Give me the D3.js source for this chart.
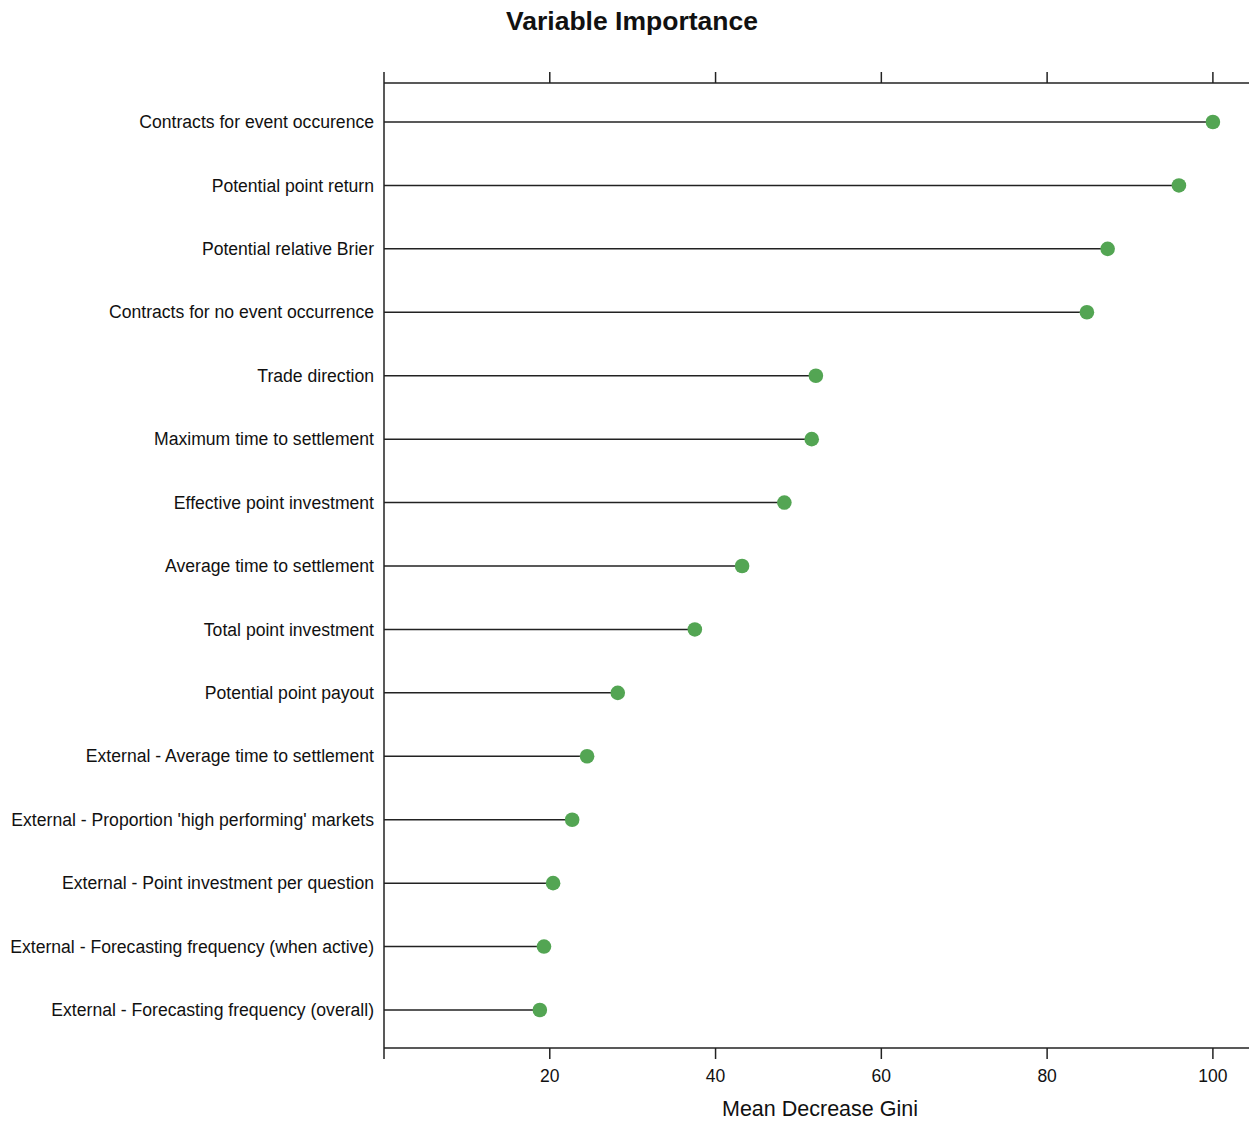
<!DOCTYPE html>
<html>
<head>
<meta charset="utf-8">
<script src="https://cdn.jsdelivr.net/npm/d3@7"></script>
<style>
  body { margin: 0; background: #fff; }
  text { font-family: "Liberation Sans", Arial, sans-serif; fill: #111; }
</style>
</head>
<body>
<div id="container"></div>
<script>
const w = 1249;
const h = 1122;

// data (top to bottom)
let variables = [
  "Contracts for event occurence",
  "Potential point return",
  "Potential relative Brier",
  "Contracts for no event occurrence",
  "Trade direction",
  "Maximum time to settlement",
  "Effective point investment",
  "Average time to settlement",
  "Total point investment",
  "Potential point payout",
  "External - Average time to settlement",
  "External - Proportion 'high performing' markets",
  "External - Point investment per question",
  "External - Forecasting frequency (when active)",
  "External - Forecasting frequency (overall)"
];
let gini = [100, 95.9, 87.3, 84.8, 52.1, 51.6, 48.3, 43.2, 37.5, 28.2, 24.5, 22.7, 20.4, 19.3, 18.8];
let tickValues = [20, 40, 60, 80, 100];

let plotLeft = 384, plotRight = 1256, plotTop = 83, plotBottom = 1048;

let xScale = d3.scaleLinear().domain([0, 105.2]).range([plotLeft, plotRight]);
let yScale = d3.scalePoint().domain(variables).range([122, 1010]);

let viz = d3.select("#container").append("svg").attr("width", w).attr("height", h);

// title
viz.append("text")
  .attr("x", 632).attr("y", 30)
  .attr("text-anchor", "middle")
  .style("font-size", "26.5px").style("font-weight", "bold")
  .text("Variable Importance");

// frame lines (top, bottom, left with 0 tick extending out)
viz.append("line").attr("x1", plotLeft).attr("x2", plotRight).attr("y1", plotTop).attr("y2", plotTop)
  .attr("stroke", "#222").attr("stroke-width", 1.5);
viz.append("line").attr("x1", plotLeft).attr("x2", plotRight).attr("y1", plotBottom).attr("y2", plotBottom)
  .attr("stroke", "#222").attr("stroke-width", 1.5);
viz.append("line").attr("x1", plotLeft).attr("x2", plotLeft).attr("y1", plotTop - 11).attr("y2", plotBottom + 11)
  .attr("stroke", "#222").attr("stroke-width", 1.5);

// ticks top and bottom
viz.selectAll(".ttick").data(tickValues).enter().append("line")
  .attr("x1", d => xScale(d)).attr("x2", d => xScale(d))
  .attr("y1", plotTop - 11).attr("y2", plotTop)
  .attr("stroke", "#222").attr("stroke-width", 1.5);
viz.selectAll(".btick").data(tickValues).enter().append("line")
  .attr("x1", d => xScale(d)).attr("x2", d => xScale(d))
  .attr("y1", plotBottom).attr("y2", plotBottom + 11)
  .attr("stroke", "#222").attr("stroke-width", 1.5);
viz.selectAll(".blabel").data(tickValues).enter().append("text")
  .attr("x", d => xScale(d)).attr("y", 1082)
  .attr("text-anchor", "middle")
  .style("font-size", "17.5px")
  .text(d => d);

// axis title
viz.append("text")
  .attr("x", (plotLeft + plotRight) / 2).attr("y", 1116)
  .attr("text-anchor", "middle")
  .style("font-size", "21.5px")
  .text("Mean Decrease Gini");

// lollipops
let rows = viz.selectAll(".row").data(variables).enter().append("g");

rows.append("line")
  .attr("x1", plotLeft)
  .attr("x2", (d, i) => xScale(gini[i]))
  .attr("y1", d => yScale(d)).attr("y2", d => yScale(d))
  .attr("stroke", "#222").attr("stroke-width", 1.5);

rows.append("circle")
  .attr("cx", (d, i) => xScale(gini[i]))
  .attr("cy", d => yScale(d))
  .attr("r", 7.3)
  .attr("fill", "#53a553");

rows.append("text")
  .attr("x", plotLeft - 10)
  .attr("y", d => yScale(d))
  .attr("dy", "0.35em")
  .attr("text-anchor", "end")
  .style("font-size", "17.6px")
  .text(d => d);
</script>
</body>
</html>
